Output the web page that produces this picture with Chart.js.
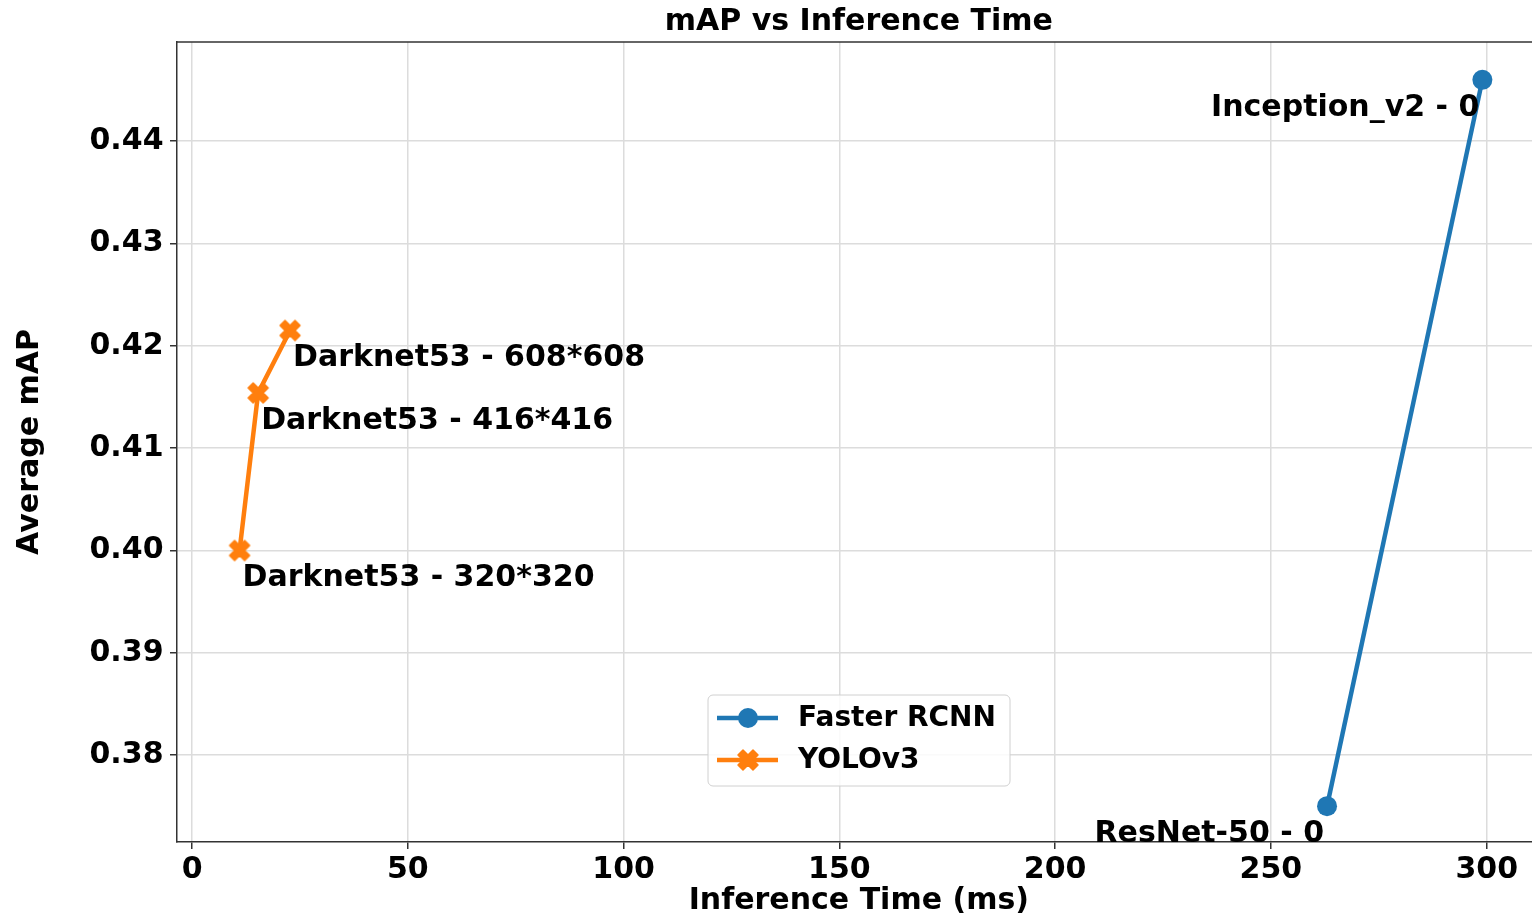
<!DOCTYPE html>
<html>
<head>
<meta charset="utf-8">
<script src="https://cdn.jsdelivr.net/npm/chart.js@4.4.1/dist/chart.umd.min.js"></script>
<style>
html,body{margin:0;padding:0;overflow:hidden;background:#fff;}
</style>
</head>
<body>
<canvas id="c" width="1532" height="916" style="width:1532px;height:916px;display:block"></canvas>
<script>
// ---- data ----
const frcnnTimes = [263, 299];
const frcnnMAP = [0.375, 0.446];
const frcnnLabels = ['ResNet-50 - 0', 'Inception_v2 - 0'];
const yoloTimes = [11, 15.3, 22.7];
const yoloMAP = [0.400, 0.4154, 0.4215];
const yoloLabels = ['Darknet53 - 320*320', 'Darknet53 - 416*416', 'Darknet53 - 608*608'];
const seriesNames = ['Faster RCNN', 'YOLOv3'];
const xTickValues = [0, 50, 100, 150, 200, 250, 300];
const yTickValues = [0.38, 0.39, 0.40, 0.41, 0.42, 0.43, 0.44];
const chartTitle = 'mAP vs Inference Time';
const xTitle = 'Inference Time (ms)';
const yTitle = 'Average mAP';

const BLUE = '#1f77b4', ORANGE = '#ff7f0e';
const FONT = "'DejaVu Sans', sans-serif";
// the original axes extend past the cropped right edge; its centre sits at this x value
const X_AXIS_CENTRE = 154.5;

function makeXMarker(size, color) {
  const pad = 2;
  const cv = document.createElement('canvas');
  cv.width = size + pad * 2; cv.height = size + pad * 2;
  const g = cv.getContext('2d');
  const pts = [[-1,-2],[0,-1],[1,-2],[2,-1],[1,0],[2,1],[1,2],[0,1],[-1,2],[-2,1],[-1,0],[-2,-1]];
  const s = size / 4, c = size / 2 + pad;
  g.beginPath();
  pts.forEach((p, i) => { const x = c + p[0] * s, y = c + p[1] * s; i ? g.lineTo(x, y) : g.moveTo(x, y); });
  g.closePath();
  g.fillStyle = color; g.fill();
  g.lineJoin = 'round'; g.lineWidth = 1.5; g.strokeStyle = color; g.stroke();
  return cv;
}
const xMarker = makeXMarker(20, ORANGE);

Chart.defaults.font.family = FONT;
Chart.defaults.font.weight = 'bold';
Chart.defaults.font.size = 30;
Chart.defaults.color = '#000';

const annotPlugin = {
  id: 'annot',
  afterDatasetsDraw(chart) {
    const ctx = chart.ctx, xs = chart.scales.x, ys = chart.scales.y;
    ctx.save();
    ctx.font = "bold 30px " + FONT;
    ctx.fillStyle = '#000';
    ctx.textBaseline = 'alphabetic';
    ctx.textAlign = 'right';
    frcnnTimes.forEach((t, i) => {
      ctx.fillText(frcnnLabels[i], xs.getPixelForValue(t) - 3, ys.getPixelForValue(frcnnMAP[i]) + 36);
    });
    ctx.textAlign = 'left';
    yoloTimes.forEach((t, i) => {
      ctx.fillText(yoloLabels[i], xs.getPixelForValue(t) + 3, ys.getPixelForValue(yoloMAP[i]) + 36);
    });
    ctx.restore();
  },
  afterDraw(chart) {
    const ctx = chart.ctx, a = chart.chartArea, xs = chart.scales.x;
    ctx.save();
    // top spine
    ctx.strokeStyle = '#333'; ctx.lineWidth = 1.5;
    ctx.beginPath(); ctx.moveTo(a.left, a.top); ctx.lineTo(a.right, a.top); ctx.stroke();
    // title and x-axis title, centred on the (uncropped) axes
    const cx = xs.getPixelForValue(X_AXIS_CENTRE);
    ctx.fillStyle = '#000'; ctx.font = "bold 30px " + FONT;
    ctx.textAlign = 'center'; ctx.textBaseline = 'alphabetic';
    ctx.fillText(chartTitle, cx, 30);
    ctx.fillText(xTitle, cx, 909);
    // legend
    const bx = 708, by = 695, bw = 302, bh = 91, r = 5;
    ctx.beginPath();
    ctx.moveTo(bx + r, by); ctx.lineTo(bx + bw - r, by); ctx.arcTo(bx + bw, by, bx + bw, by + r, r);
    ctx.lineTo(bx + bw, by + bh - r); ctx.arcTo(bx + bw, by + bh, bx + bw - r, by + bh, r);
    ctx.lineTo(bx + r, by + bh); ctx.arcTo(bx, by + bh, bx, by + bh - r, r);
    ctx.lineTo(bx, by + r); ctx.arcTo(bx, by, bx + r, by, r); ctx.closePath();
    ctx.fillStyle = 'rgba(255,255,255,0.85)'; ctx.fill();
    ctx.strokeStyle = '#d0d0d0'; ctx.lineWidth = 1; ctx.stroke();
    const rows = [by + 23, by + 65];
    chart.data.datasets.forEach((ds, i) => {
      const y = rows[i];
      ctx.strokeStyle = ds.borderColor; ctx.lineWidth = 4.5;
      ctx.beginPath(); ctx.moveTo(717, y); ctx.lineTo(778, y); ctx.stroke();
      if (i === 0) {
        ctx.fillStyle = ds.borderColor;
        ctx.beginPath(); ctx.arc(748, y, 10, 0, Math.PI * 2); ctx.fill();
      } else {
        ctx.drawImage(xMarker, 748 - xMarker.width / 2, y - xMarker.height / 2);
      }
      ctx.fillStyle = '#000'; ctx.font = "bold 28px " + FONT;
      ctx.textAlign = 'left'; ctx.textBaseline = 'middle';
      ctx.fillText(ds.label, 798, y + 1);
    });
    ctx.restore();
  }
};

new Chart(document.getElementById('c'), {
  type: 'scatter',
  data: {
    datasets: [
      {
        label: seriesNames[0],
        data: frcnnTimes.map((t, i) => ({x: t, y: frcnnMAP[i]})),
        showLine: true, borderColor: BLUE, backgroundColor: BLUE, borderWidth: 4.5,
        pointStyle: 'circle', pointRadius: 10, pointBorderWidth: 0, pointBackgroundColor: BLUE
      },
      {
        label: seriesNames[1],
        data: yoloTimes.map((t, i) => ({x: t, y: yoloMAP[i]})),
        showLine: true, borderColor: ORANGE, backgroundColor: ORANGE, borderWidth: 4.5,
        pointStyle: xMarker, pointRadius: 10
      }
    ]
  },
  options: {
    responsive: false,
    animation: false,
    devicePixelRatio: 1,
    layout: {autoPadding: false, padding: {top: 42, left: 0, right: 0, bottom: 0}},
    plugins: {
      legend: {display: false},
      tooltip: {enabled: false},
      title: {display: false}
    },
    scales: {
      x: {
        type: 'linear', min: -3.5, max: 310.5,
        afterBuildTicks: s => { s.ticks = xTickValues.map(v => ({value: v})); },
        afterFit: s => { s.height = 74; s.paddingLeft = 0; s.paddingRight = 0; },
        ticks: {padding: 3, color: '#000', font: {size: 30, weight: 'bold'}, callback: v => String(v), maxRotation: 0, autoSkip: false},
        grid: {color: '#dcdcdc', lineWidth: 1.5, drawTicks: true, tickLength: 7, tickColor: '#333', tickWidth: 1.5},
        border: {display: true, color: '#333', width: 1.5},
        title: {display: false}
      },
      y: {
        type: 'linear', min: 0.3715, max: 0.4497,
        afterBuildTicks: s => { s.ticks = yTickValues.map(v => ({value: v})); },
        afterFit: s => { s.width = 177; s.paddingTop = 0; s.paddingBottom = 0; },
        ticks: {padding: 6.5, color: '#000', font: {size: 30, weight: 'bold'}, callback: v => Number(v).toFixed(2), autoSkip: false},
        grid: {color: '#dcdcdc', lineWidth: 1.5, drawTicks: true, tickLength: 7, tickColor: '#333', tickWidth: 1.5},
        border: {display: true, color: '#333', width: 1.5},
        title: {display: true, text: yTitle, color: '#000', font: {size: 30, weight: 'bold', lineHeight: 1}, padding: {top: 15, bottom: 0}}
      }
    }
  },
  plugins: [annotPlugin]
});
</script>
</body>
</html>
